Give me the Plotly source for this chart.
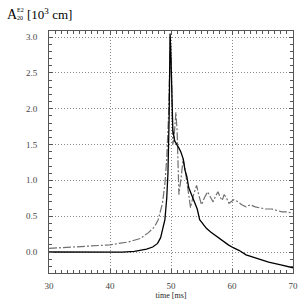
import plotly.graph_objects as go

# time [ms]
t_solid = [30, 35, 40, 42, 44, 45, 46, 47, 47.8, 48.3, 48.6, 49.0, 49.3, 49.5, 49.7, 49.85,
           50.0, 50.15, 50.3, 50.6, 51.0, 51.3, 51.6, 52.0, 52.3, 52.6, 52.9, 53.3, 53.9, 54.3,
           54.7, 55.2, 55.8, 56.5, 57.1, 58.0, 58.6, 59.4, 60.2, 61.2, 62.3, 64, 66, 68, 70]
a_solid = [0.0, -0.005, -0.005, -0.003, 0.01, 0.02, 0.04, 0.07, 0.12, 0.2, 0.3, 0.45, 0.75, 1.1,
           1.9, 3.05, 2.7, 2.0, 1.7, 1.55, 1.5, 1.45, 1.4, 1.3, 1.14, 1.05, 0.9, 0.82, 0.68, 0.6,
           0.45, 0.4, 0.33, 0.28, 0.24, 0.18, 0.14, 0.1, 0.06, 0.02, -0.04, -0.09, -0.14, -0.18, -0.22]

t_dash = [30, 35, 40, 43, 45, 46.3, 47.3, 47.9, 48.6, 49.0, 49.3, 49.6, 49.9, 50.1, 50.3, 50.5,
          50.8, 51.0, 51.3, 51.6, 52.0, 52.4, 52.8, 53.2, 53.7, 54.2, 54.6, 55.0, 55.5, 56.0,
          56.5, 56.9, 57.3, 57.7, 58.1, 58.4, 58.7, 59.0, 59.5, 60.3, 61.0, 61.6, 62.3, 63.0,
          63.8, 64.5, 65.5, 66.5, 67.5, 68.2, 69, 70]
a_dash = [0.05, 0.07, 0.1, 0.14, 0.19, 0.27, 0.35, 0.45, 0.68, 0.95, 1.3, 1.9, 3.0, 2.4, 1.5, 1.6,
          1.95, 1.7, 0.8, 1.0, 1.3, 1.1, 0.85, 0.62, 0.8, 0.93, 0.78, 0.66, 0.76, 0.84,
          0.76, 0.7, 0.78, 0.84, 0.76, 0.72, 0.8, 0.77, 0.68, 0.73, 0.7, 0.66, 0.63, 0.66,
          0.63, 0.62, 0.6, 0.6, 0.58, 0.56, 0.56, 0.54]

x_ticks = [30, 40, 50, 60, 70]
y_ticks = [0.0, 0.5, 1.0, 1.5, 2.0, 2.5, 3.0]

serif = "Liberation Serif, Times New Roman, serif"

fig = go.Figure()
fig.add_trace(go.Scatter(x=t_dash, y=a_dash, mode="lines", hoverinfo="skip",
                         line=dict(color="#707070", width=1.2, dash="8px,2px,2px,2px")))
fig.add_trace(go.Scatter(x=t_solid, y=a_solid, mode="lines", hoverinfo="skip",
                         line=dict(color="black", width=1.3)))

axis_common = dict(showline=True, linecolor="#555", linewidth=1, mirror="allticks",
                   ticks="inside", tickcolor="#555", ticklen=4,
                   showgrid=True, gridcolor="#888", griddash="1px,2px", gridwidth=1,
                   ticklabeloverflow="allow",
                   tickfont=dict(family=serif, size=9, color="#444"))

fig.update_xaxes(range=[30, 70], tickvals=x_ticks, ticktext=[str(v) for v in x_ticks],
                 ticklabelstandoff=4,
                 minor=dict(dtick=1, tick0=30, ticks="inside", ticklen=3, tickcolor="#555", showgrid=False),
                 title=dict(text="time [ms]", font=dict(family=serif, size=8, color="#222"), standoff=0),
                 zeroline=False, **axis_common)
fig.update_yaxes(range=[-0.293, 3.084], tickvals=y_ticks, ticktext=[f"{v:.1f}" for v in y_ticks],
                 ticklabelstandoff=9,
                 minor=dict(dtick=0.1, tick0=0, ticks="inside", ticklen=3, tickcolor="#555", showgrid=False),
                 zeroline=False, **axis_common)

# title pieces: A with stacked sub/superscript, then [10^3 cm]
anns = [
    dict(text="A", xshift=-43, yshift=17, size=14),
    dict(text="E2", xshift=-33, yshift=21, size=6),
    dict(text="20", xshift=-33, yshift=13, size=6),
    dict(text="[10<sup>3</sup> cm]", xshift=-23, yshift=17, size=13),
]
for a in anns:
    fig.add_annotation(x=0, y=1, xref="paper", yref="paper", text=a["text"], showarrow=False,
                       xanchor="left", yanchor="middle", xshift=a["xshift"], yshift=a["yshift"],
                       borderpad=0,
                       font=dict(family=serif, size=a["size"], color="black"))

fig.update_layout(width=305, height=305, showlegend=False, hovermode=False,
                  margin=dict(l=49, r=7, t=31, b=32),
                  paper_bgcolor="white", plot_bgcolor="white")

fig.write_html("out.html", config={"displayModeBar": False, "staticPlot": True},
               post_script="document.body.style.margin='0';")
